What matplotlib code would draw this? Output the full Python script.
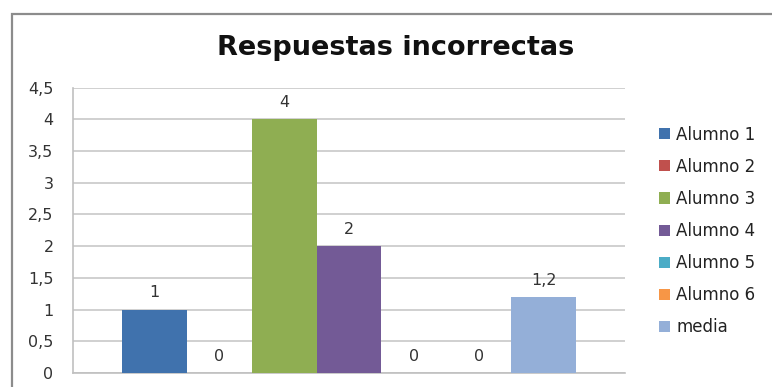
import matplotlib.pyplot as plt
from matplotlib.patches import Rectangle
from matplotlib.ticker import FuncFormatter

series = ["Alumno 1", "Alumno 2", "Alumno 3", "Alumno 4", "Alumno 5", "Alumno 6", "media"]
values = [1, 0, 4, 2, 0, 0, 1.2]
colors = ["#4072ad", "#c0504d", "#8fae52", "#735a96", "#4bacc6", "#f79646", "#94afd8"]
yticks = [0, 0.5, 1, 1.5, 2, 2.5, 3, 3.5, 4, 4.5]

plt.rcParams["font.family"] = ["DejaVu Sans"]

fig = plt.figure(figsize=(7.72, 3.87), dpi=100)
ax = fig.add_axes([73 / 772, 1 - 373 / 387, 552 / 772, 285.5 / 387])

# chart area border (cut off on the right and bottom like the screenshot)
fig.patches.append(Rectangle((12 / 772, -0.1), 1.2, 1 - 14 / 387 + 0.1,
                             transform=fig.transFigure, fill=False,
                             edgecolor="#8c8c8c", linewidth=1.6))

def fmt(v):
    return f"{v:g}".replace(".", ",")

for i, (name, v, c) in enumerate(zip(series, values, colors)):
    ax.bar(i, v, width=1.0, color=c, label=name, zorder=3)
    ax.annotate(fmt(v), (i, v), xytext=(0, 12), textcoords="offset points",
                ha="center", va="center", fontsize=11.5, color="#333333")

ax.set_xlim(-1.25, len(series) - 1 + 1.25)
ax.set_ylim(0, 4.5)
ax.set_yticks(yticks)
ax.yaxis.set_major_formatter(FuncFormatter(lambda v, p: fmt(v)))
ax.set_xticks([])
ax.grid(axis="y", color="#c8c8c8", linewidth=1.2, zorder=0)
ax.tick_params(axis="y", length=0, pad=14, labelsize=11.5, labelcolor="#333333")
for s in ["top", "right"]:
    ax.spines[s].set_visible(False)
for s in ["left", "bottom"]:
    ax.spines[s].set_color("#c0c0c0")
    ax.spines[s].set_linewidth(1.2)

fig.text(396 / 772, 1 - 48 / 387, "Respuestas incorrectas", ha="center", va="center",
         fontsize=19.5, fontweight="bold", color="#111111")

leg = fig.legend(loc="center left", bbox_to_anchor=(644 / 772, 1 - 231 / 387),
                 frameon=False, fontsize=12, handlelength=0.65, handleheight=0.65,
                 handletextpad=0.4, labelspacing=0.85, labelcolor="#222222")

fig.savefig("out.png", dpi=100)
